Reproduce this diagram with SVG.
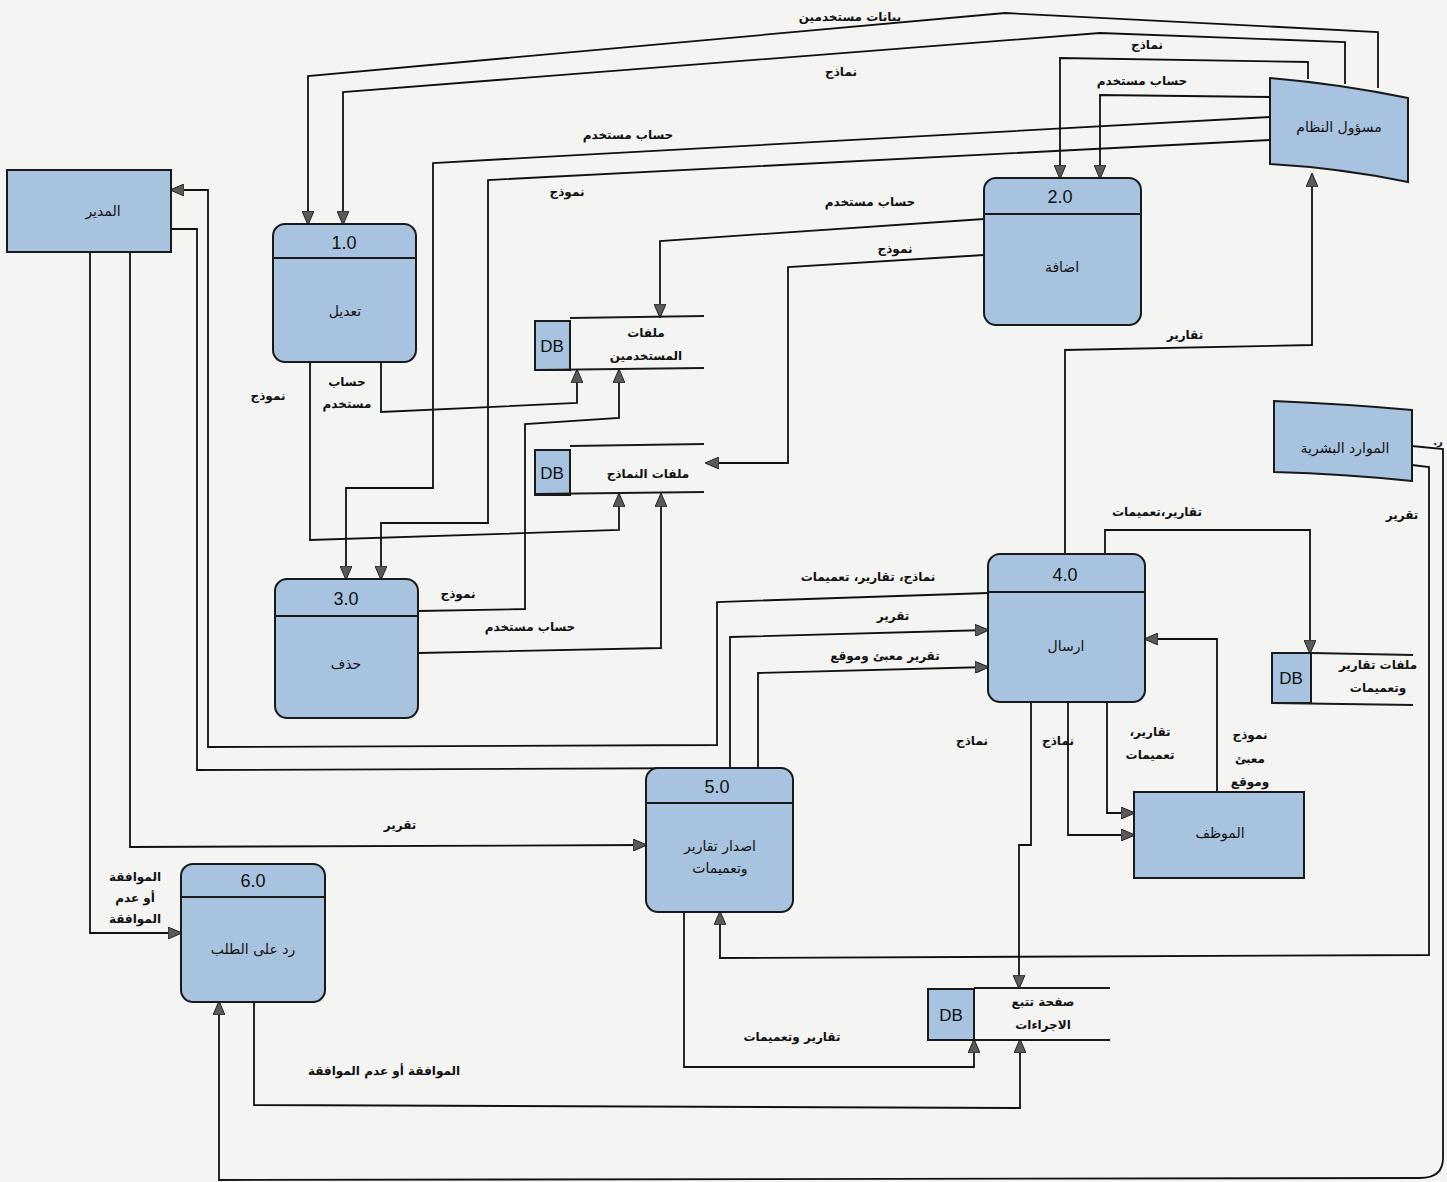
<svg xmlns="http://www.w3.org/2000/svg" width="1447" height="1182" viewBox="0 0 1447 1182">
<defs>
<marker id="arr" markerUnits="userSpaceOnUse" markerWidth="14" markerHeight="12" viewBox="0 0 14 12" refX="13" refY="6" orient="auto">
<path d="M0,0 L14,6 L0,12 z" fill="#5a5a5a" stroke="#222" stroke-width="1"/>
</marker>
<style>
.n{fill:#a8c3e0;stroke:#1a1a1a;stroke-width:2}
.ln{fill:none;stroke:#1a1a1a;stroke-width:1.8}
.c{fill:none;stroke:#111;stroke-width:1.8}
.ca{fill:none;stroke:#111;stroke-width:1.8;marker-end:url(#arr)}
.t{font-family:"DejaVu Sans",sans-serif;font-size:14px;fill:#111;text-anchor:middle;direction:rtl}
.l{font-family:"DejaVu Sans",sans-serif;font-size:12px;font-weight:bold;fill:#111;text-anchor:middle;direction:rtl}
.num{font-family:"Liberation Sans",Arial,sans-serif;font-size:18px;fill:#111;text-anchor:middle}
.db{font-family:"Liberation Sans",Arial,sans-serif;font-size:17px;fill:#111;text-anchor:middle}
</style>
</defs>
<rect x="0" y="0" width="1447" height="1182" fill="#f4f4f2"/>

<g id="connectors">
<path class="ca" d="M1378,88 L1378,32 L1005,13 L308,76 L308,224"/>
<path class="ca" d="M1345,84 L1345,42 L1100,33 L343,92 L343,224"/>
<path class="ca" d="M1270,117 L433,163 L433,488 L346,488 L346,579"/>
<path class="ca" d="M1270,140 L488,180 L488,523 L381,523 L381,579"/>
<path class="ca" d="M1308,79 L1308,62 L1060,58 L1060,178"/>
<path class="ca" d="M1270,97 L1100,95 L1100,178"/>
<path class="ca" d="M984,219 L660,241 L660,317"/>
<path class="ca" d="M984,255 L788,267 L788,463 L706,463"/>
<path class="ca" d="M381,362 L381,412 L577,403 L577,370"/>
<path class="ca" d="M310,362 L310,540 L619,530 L619,494"/>
<path class="ca" d="M418,611 L525,609 L525,424 L619,418 L619,370"/>
<path class="ca" d="M418,653 L661,648 L661,494"/>
<path class="ca" d="M988,593 L717,602 L717,745 L208,747 L208,190 L171,190"/>
<path class="ca" d="M170,229 L197,229 L197,770 L730,768 L730,637 L988,630"/>
<path class="ca" d="M758,768 L758,673 L988,667"/>
<path class="ca" d="M130,252 L130,847 L646,845"/>
<path class="ca" d="M90,252 L90,933 L181,933"/>
<path class="ca" d="M254,1002 L254,1105 L1020,1108 L1020,1040"/>
<path class="ca" d="M684,912 L684,1067 L974,1067 L974,1040"/>
<path class="ca" d="M1031,702 L1031,845 L1019,845 L1019,988"/>
<path class="ca" d="M1068,702 L1068,835 L1134,835"/>
<path class="ca" d="M1107,702 L1107,813 L1134,813"/>
<path class="ca" d="M1217,792 L1217,639 L1145,639"/>
<path class="ca" d="M1065,554 L1065,350 L1312,345 L1312,174"/>
<path class="ca" d="M1105,554 L1105,530 L1310,530 L1310,653"/>
<path class="ca" d="M1412,465 L1429,467 L1429,955 L720,958 L720,912"/>
<path class="ca" d="M1412,446 L1443,449 L1443,1158 Q1443,1178 1420,1178 L219,1180 L219,1002"/>
</g>

<g id="labels">
<text class="l" x="850" y="21">بيانات مستخدمين</text>
<text class="l" x="841" y="76">نماذج</text>
<text class="l" x="628" y="139">حساب مستخدم</text>
<text class="l" x="567" y="196">نموذج</text>
<text class="l" x="1147" y="49">نماذج</text>
<text class="l" x="1142" y="85">حساب مستخدم</text>
<text class="l" x="870" y="206">حساب مستخدم</text>
<text class="l" x="895" y="253">نموذج</text>
<text class="l" x="268" y="400">نموذج</text>
<text class="l" x="347" y="386">حساب</text>
<text class="l" x="347" y="408">مستخدم</text>
<text class="l" x="458" y="598">نموذج</text>
<text class="l" x="530" y="631">حساب مستخدم</text>
<text class="l" x="868" y="581">نماذج، تقارير، تعميمات</text>
<text class="l" x="893" y="620">تقرير</text>
<text class="l" x="885" y="660">تقرير معبئ وموقع</text>
<text class="l" x="1185" y="339">تقارير</text>
<text class="l" x="1157" y="516">تقارير،تعميمات</text>
<text class="l" x="1402" y="519">تقرير</text>
<text class="l" x="1438" y="445" style="font-size:10px">ر.</text>
<text class="l" x="972" y="745">نماذج</text>
<text class="l" x="1058" y="745">نماذج</text>
<text class="l" x="1150" y="736">تقارير،</text>
<text class="l" x="1150" y="759">تعميمات</text>
<text class="l" x="1250" y="739">نموذج</text>
<text class="l" x="1250" y="763">معبئ</text>
<text class="l" x="1250" y="786">وموقع</text>
<text class="l" x="400" y="829">تقرير</text>
<text class="l" x="135" y="881">الموافقة</text>
<text class="l" x="135" y="902">أو عدم</text>
<text class="l" x="135" y="923">الموافقة</text>
<text class="l" x="384" y="1075">الموافقة أو عدم الموافقة</text>
<text class="l" x="792" y="1041">تقارير وتعميمات</text>
</g>

<g id="mudir">
<rect class="n" x="7" y="170" width="164" height="82"/>
<text class="t" x="103" y="216">المدير</text>
</g>

<g id="p1">
<rect class="n" x="273" y="224" width="143" height="138" rx="12"/>
<line class="ln" x1="273" y1="258" x2="416" y2="258"/>
<text class="num" x="344" y="249">1.0</text>
<text class="t" x="345" y="316">تعديل</text>
</g>

<g id="p2">
<rect class="n" x="984" y="178" width="157" height="147" rx="12"/>
<line class="ln" x1="984" y1="214" x2="1141" y2="214"/>
<text class="num" x="1060" y="203">2.0</text>
<text class="t" x="1062" y="272">اضافة</text>
</g>

<g id="p3">
<rect class="n" x="275" y="579" width="143" height="139" rx="12"/>
<line class="ln" x1="275" y1="616" x2="418" y2="616"/>
<text class="num" x="346" y="605">3.0</text>
<text class="t" x="346" y="669">حذف</text>
</g>

<g id="p4">
<rect class="n" x="988" y="554" width="157" height="148" rx="12"/>
<line class="ln" x1="988" y1="592" x2="1145" y2="592"/>
<text class="num" x="1065" y="581">4.0</text>
<text class="t" x="1066" y="651">ارسال</text>
</g>

<g id="p5">
<rect class="n" x="646" y="768" width="147" height="144" rx="12"/>
<line class="ln" x1="646" y1="803" x2="793" y2="803"/>
<text class="num" x="717" y="793">5.0</text>
<text class="t" x="720" y="851">اصدار تقارير</text>
<text class="t" x="720" y="873">وتعميمات</text>
</g>

<g id="p6">
<rect class="n" x="181" y="864" width="144" height="138" rx="12"/>
<line class="ln" x1="181" y1="897" x2="325" y2="897"/>
<text class="num" x="253" y="887">6.0</text>
<text class="t" x="253" y="954">رد على الطلب</text>
</g>

<g id="admin">
<path class="n" d="M1270,78 Q1340,84 1408,98 L1408,182 Q1340,168 1270,164 Z"/>
<text class="t" x="1339" y="132">مسؤول النظام</text>
</g>

<g id="hr">
<path class="n" d="M1274,401 Q1345,404 1412,410 L1412,481 Q1345,474 1274,472 Z"/>
<text class="t" x="1345" y="453">الموارد البشرية</text>
</g>

<g id="employee">
<rect class="n" x="1134" y="792" width="170" height="86"/>
<text class="t" x="1220" y="838">الموظف</text>
</g>

<g id="ds1">
<rect class="n" x="535" y="321" width="35" height="49"/>
<line class="ln" x1="570" y1="318" x2="704" y2="316"/>
<line class="ln" x1="535" y1="370" x2="704" y2="368"/>
<text class="db" x="552" y="352">DB</text>
<text class="l" x="646" y="337">ملفات</text>
<text class="l" x="646" y="360">المستخدمين</text>
</g>

<g id="ds2">
<rect class="n" x="535" y="450" width="35" height="45"/>
<line class="ln" x1="570" y1="446" x2="704" y2="444"/>
<line class="ln" x1="535" y1="494" x2="704" y2="492"/>
<text class="db" x="552" y="479">DB</text>
<text class="l" x="648" y="478">ملفات النماذج</text>
</g>

<g id="ds3">
<rect class="n" x="1272" y="653" width="39" height="50"/>
<line class="ln" x1="1311" y1="653" x2="1413" y2="655"/>
<line class="ln" x1="1272" y1="703" x2="1413" y2="705"/>
<text class="db" x="1291" y="684">DB</text>
<text class="l" x="1378" y="669">ملفات تقارير</text>
<text class="l" x="1378" y="692">وتعميمات</text>
</g>

<g id="ds4">
<rect class="n" x="928" y="989" width="46" height="51"/>
<line class="ln" x1="974" y1="988" x2="1110" y2="988"/>
<line class="ln" x1="928" y1="1040" x2="1110" y2="1040"/>
<text class="db" x="951" y="1021">DB</text>
<text class="l" x="1043" y="1006">صفحة تتبع</text>
<text class="l" x="1043" y="1029">الاجراءات</text>
</g>
</svg>
